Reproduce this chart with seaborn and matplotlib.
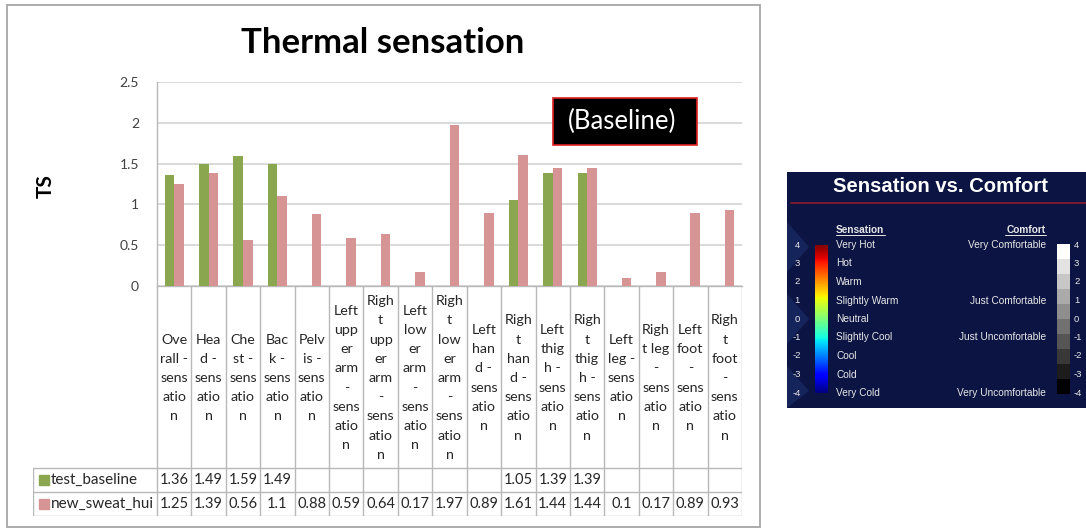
import numpy as np
import pandas as pd
import matplotlib
matplotlib.use("Agg")
import matplotlib.pyplot as plt
import seaborn as sns
from matplotlib.patches import Rectangle, Polygon

# ---------------- data ----------------
categories = ["Overall - sensation", "Head - sensation", "Chest - sensation", "Back - sensation",
              "Pelvis - sensation", "Left upper arm - sensation", "Right upper arm - sensation",
              "Left lower arm - sensation", "Right lower arm - sensation", "Left hand - sensation",
              "Right hand - sensation", "Left thigh - sensation", "Right thigh - sensation",
              "Left leg - sensation", "Right leg - sensation", "Left foot - sensation",
              "Right foot - sensation"]
tick_labels = ["Ove\nrall -\nsens\natio\nn", "Hea\nd -\nsens\natio\nn", "Che\nst -\nsens\natio\nn",
               "Bac\nk -\nsens\natio\nn", "Pelv\nis -\nsens\natio\nn",
               "Left\nupp\ner\narm\n-\nsens\natio\nn", "Righ\nt\nupp\ner\narm\n-\nsens\natio\nn",
               "Left\nlow\ner\narm\n-\nsens\natio\nn", "Righ\nt\nlow\ner\narm\n-\nsens\natio\nn",
               "Left\nhan\nd -\nsens\natio\nn", "Righ\nt\nhan\nd -\nsens\natio\nn",
               "Left\nthig\nh -\nsens\natio\nn", "Righ\nt\nthig\nh -\nsens\natio\nn",
               "Left\nleg -\nsens\natio\nn", "Righ\nt leg\n-\nsens\natio\nn",
               "Left\nfoot\n-\nsens\natio\nn", "Righ\nt\nfoot\n-\nsens\natio\nn"]
nan = np.nan
test_baseline = [1.36, 1.49, 1.59, 1.49, nan, nan, nan, nan, nan, nan, 1.05, 1.39, 1.39, nan, nan, nan, nan]
new_sweat_hui = [1.25, 1.39, 0.56, 1.1, 0.88, 0.59, 0.64, 0.17, 1.97, 0.89, 1.61, 1.44, 1.44, 0.1, 0.17, 0.89, 0.93]
series_names = ["test_baseline", "new_sweat_hui"]
y_ticks = [0, 0.5, 1, 1.5, 2, 2.5]
title = "Thermal sensation"
y_label = "TS"
note = "(Baseline)"

scale_levels = [4, 3, 2, 1, 0, -1, -2, -3, -4]
sensation_labels = ["Very Hot", "Hot", "Warm", "Slightly Warm", "Neutral", "Slightly Cool",
                    "Cool", "Cold", "Very Cold"]
comfort_levels = [4, 1, -1, -4]
comfort_labels = ["Very Comfortable", "Just Comfortable", "Just Uncomfortable", "Very Uncomfortable"]

# ---------------- styling ----------------
W, H = 1086, 529
GREEN = "#8AA64E"
PINK = "#D69594"
GRID = "#D0D0D0"
TLINE = "#B8B8B8"
FONT = ["Lato", "DejaVu Sans"]
ARIAL = ["Liberation Sans", "DejaVu Sans"]

sns.set_theme(style="white")
plt.rcParams["font.family"] = FONT

fig = plt.figure(figsize=(W / 100, H / 100), dpi=100)
fig.patch.set_facecolor("white")

def fx(px):
    return px / W

def fy(py):
    return 1 - py / H

# outer panel border
fig.patches.append(Rectangle((fx(7), fy(527)), 753 / W, 522 / H, transform=fig.transFigure,
                             fill=False, edgecolor="#A6A6A6", lw=1.3, zorder=0))

# ---------------- main bar axes ----------------
PL, PR, PT, PB = 157, 742, 82, 286
ax = fig.add_axes([fx(PL), fy(PB), (PR - PL) / W, (PB - PT) / H])
rows = []
for c, a, b in zip(categories, test_baseline, new_sweat_hui):
    if not np.isnan(a):
        rows.append((c, series_names[0], a))
    if not np.isnan(b):
        rows.append((c, series_names[1], b))
df = pd.DataFrame(rows, columns=["category", "series", "value"])
sns.barplot(data=df, x="category", y="value", hue="series", order=categories,
            hue_order=series_names, palette=[GREEN, PINK], width=0.56, saturation=1,
            errorbar=None, legend=False, linewidth=0, ax=ax, zorder=3)
ax.set_xlim(-0.5, len(categories) - 0.5)
ax.set_ylim(0, 2.5)
ax.set_yticks(y_ticks)
ax.set_yticklabels([f"{t:g}" for t in y_ticks], fontsize=10, color="#404040")
ax.set_xticks([])
ax.set_xlabel("")
ax.set_ylabel("")
ax.tick_params(axis="y", length=0, pad=13)
for v in y_ticks:
    ax.axhline(v, color=GRID, lw=1.1, zorder=1)
for s in ["top", "right"]:
    ax.spines[s].set_visible(False)
ax.spines["left"].set_color(TLINE)
ax.spines["bottom"].set_color(TLINE)
ax.spines["left"].set_linewidth(1)
ax.spines["bottom"].set_linewidth(1)
ax.set_facecolor("white")

# note box
fig.patches.append(Rectangle((fx(553), fy(145)), 144 / W, 47 / H, transform=fig.transFigure,
                             facecolor="black", edgecolor="#E02020", lw=1.2, zorder=10))
fig.text(fx(622), fy(121), note, ha="center", va="center", fontsize=18.5, color="white",
         family=FONT, zorder=11)

fig.text(fx(383), fy(43), title, ha="center", va="center", fontsize=25, fontweight="bold",
         color="black")
fig.text(fx(46), fy(186), y_label, ha="center", va="center", fontsize=15, fontweight="bold",
         rotation=90, color="black")

# ---------------- data table ----------------
n = len(categories)
cw = (PR - PL) / n
TL, TB = 33, 516
x0 = -0.5 - (PL - TL) / cw
tab = fig.add_axes([fx(TL), fy(TB), (PR - TL) / W, (TB - PB) / H])
tab.set_xlim(x0, n - 0.5)
tab.set_ylim(TB, PB)
tab.axis("off")

def px2x(px):
    return -0.5 + (px - PL) / cw

R1, R2, R3 = 468, 492, 516
for k in range(n + 1):
    tab.plot([k - 0.5, k - 0.5], [PB, R3], color=TLINE, lw=1, solid_capstyle="butt")
for yy in [R1, R2, R3]:
    tab.plot([x0, n - 0.5], [yy, yy], color=TLINE, lw=1, solid_capstyle="butt")
tab.plot([x0, x0], [R1, R3], color=TLINE, lw=1)

for i, lab in enumerate(tick_labels):
    tab.text(i, 378, lab, ha="center", va="center", fontsize=10.3, linespacing=1.72,
             color="#262626")

row_vals = [test_baseline, new_sweat_hui]
row_cols = [GREEN, PINK]
for r, (yc, name, vals, col) in enumerate(zip([(R1 + R2) / 2, (R2 + R3) / 2], series_names,
                                               row_vals, row_cols)):
    tab.plot([px2x(44)], [yc], marker="s", markersize=6.5, color=col, linestyle="none")
    tab.text(px2x(51), yc, name, ha="left", va="center", fontsize=11, color="#262626")
    for i, v in enumerate(vals):
        if not np.isnan(v):
            tab.text(i, yc, f"{v:g}", ha="center", va="center", fontsize=10.5, color="#262626")

# ---------------- right "Sensation vs. Comfort" panel ----------------
RL, RR, RT, RB = 787, 1086, 172, 408
rp = fig.add_axes([fx(RL), fy(RB), (RR - RL) / W, (RB - RT) / H])
rp.set_xlim(RL, RR)
rp.set_ylim(RB, RT)
rp.axis("off")
rp.add_patch(Rectangle((RL, RT), RR - RL, RB - RT, facecolor="#0B1442", edgecolor="none", zorder=0))
for tri in [[(RL, 222), (RL + 22, 247), (RL, 272)], [(RL, 294), (RL + 22, 319), (RL, 344)],
            [(RL, 366), (RL + 22, 391), (RL, 408)]]:
    rp.add_patch(Polygon(tri, closed=True, facecolor="#16245C", edgecolor="none", zorder=0.5))
rp.plot([RL + 4, RR], [203, 203], color="#8A1C28", lw=1.2)
rp.text(940, 186, "Sensation vs. Comfort", ha="center", va="center", fontsize=14.6,
        fontweight="bold", color="white", family=ARIAL)

rp.text(836, 230, "Sensation", ha="left", va="center", fontsize=7.3, fontweight="bold",
        color="#E8E8E8", family=ARIAL)
rp.plot([836, 885], [235, 235], color="#E8E8E8", lw=0.7)
rp.text(1046, 230, "Comfort", ha="right", va="center", fontsize=7.3, fontweight="bold",
        color="#E8E8E8", family=ARIAL)
rp.plot([1005, 1046], [235, 235], color="#E8E8E8", lw=0.7)

def ly(level):
    return 245 + (4 - level) * 18.5

rp.imshow(np.linspace(1, 0, 256).reshape(-1, 1), cmap="jet", aspect="auto",
          extent=[815, 828, ly(-4), ly(4)], zorder=2)
rp.imshow(np.linspace(1, 0, 10).reshape(-1, 1), cmap="gray", aspect="auto",
          extent=[1057, 1070, ly(-4) + 1, ly(4) - 1], zorder=2, vmin=0, vmax=1)
rp.set_xlim(RL, RR)
rp.set_ylim(RB, RT)

for lev, lab in zip(scale_levels, sensation_labels):
    rp.text(797, ly(lev), f"{lev}", ha="center", va="center", fontsize=6.8, color="#E8E8E8",
            family=ARIAL)
    rp.text(836, ly(lev), lab, ha="left", va="center", fontsize=7.3, color="#E8E8E8", family=ARIAL)
    rp.text(1074, ly(lev), f"{lev}", ha="left", va="center", fontsize=6.8, color="#E8E8E8",
            family=ARIAL)
for lev, lab in zip(comfort_levels, comfort_labels):
    rp.text(1046, ly(lev), lab, ha="right", va="center", fontsize=7.3, color="#E8E8E8",
            family=ARIAL)

fig.savefig("out.png", dpi=100, facecolor="white")
